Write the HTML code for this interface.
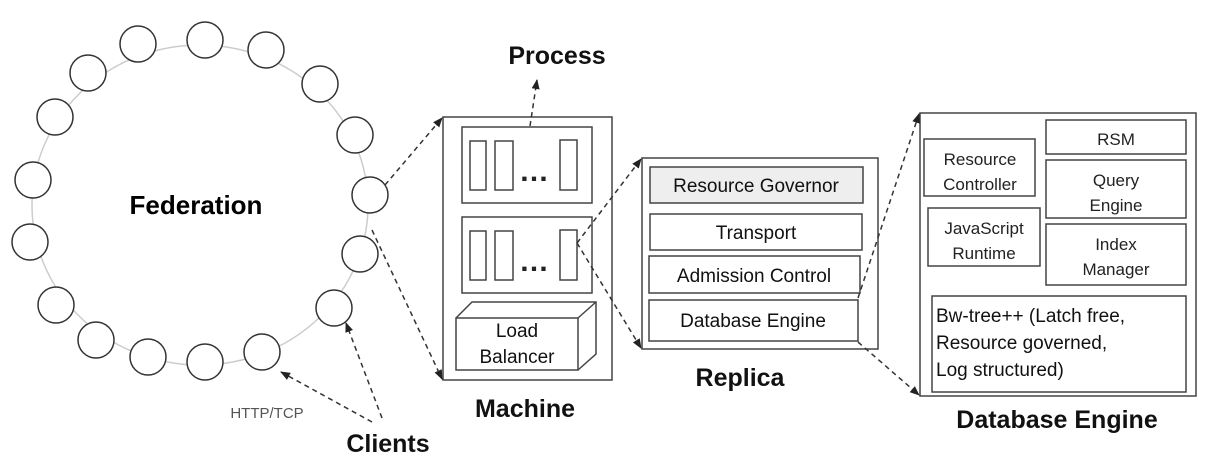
<!DOCTYPE html>
<html><head><style>body{margin:0;background:#fff}svg{display:block}text{font-family:"Liberation Sans",sans-serif}</style></head><body>
<svg width="1212" height="470" viewBox="0 0 1212 470" xmlns="http://www.w3.org/2000/svg">
<defs><marker id="a" markerWidth="10" markerHeight="10" refX="9" refY="5" orient="auto" markerUnits="userSpaceOnUse"><path d="M0,1 L10,5 L0,9 z" fill="#222"/></marker></defs>
<ellipse cx="200" cy="205" rx="168" ry="160" fill="none" stroke="#ccc" stroke-width="1.5"/>
<g fill="#fff" stroke="#333" stroke-width="1.5">
<circle cx="138" cy="44" r="18"/><circle cx="205" cy="40" r="18"/><circle cx="266" cy="50" r="18"/><circle cx="320" cy="84" r="18"/><circle cx="355" cy="135" r="18"/><circle cx="370" cy="195" r="18"/><circle cx="360" cy="254" r="18"/><circle cx="334" cy="308" r="18"/><circle cx="262" cy="352" r="18"/><circle cx="205" cy="362" r="18"/><circle cx="148" cy="357" r="18"/><circle cx="96" cy="340" r="18"/><circle cx="56" cy="305" r="18"/><circle cx="30" cy="242" r="18"/><circle cx="33" cy="180" r="18"/><circle cx="55" cy="117" r="18"/><circle cx="88" cy="73" r="18"/>
</g>
<text x="196" y="214" font-size="26" font-weight="bold" text-anchor="middle">Federation</text>
<g fill="none" stroke="#444" stroke-width="1.5">
<rect x="443" y="117" width="169" height="263"/>
<rect x="462" y="127" width="130" height="76"/><rect x="462" y="217" width="130" height="76"/>
<rect x="470" y="141" width="16" height="49"/><rect x="495" y="141" width="18" height="49"/><rect x="560" y="140" width="17" height="50"/>
<rect x="470" y="231" width="16" height="49"/><rect x="495" y="231" width="18" height="49"/><rect x="560" y="230" width="17" height="50"/>
<rect x="456" y="318" width="122" height="52" fill="#fff"/><path d="M456,318 L472,302 L596,302 L596,354 L578,370 M578,318 L596,302"/>
<rect x="642" y="158" width="236" height="191"/>
<rect x="650" y="167" width="213" height="36" fill="#eee"/><rect x="650" y="214" width="212" height="36"/><rect x="649" y="256" width="211" height="37"/><rect x="649" y="300" width="209" height="41"/>
<rect x="920" y="113" width="276" height="283"/>
<rect x="924" y="139" width="111" height="57"/><rect x="1046" y="120" width="140" height="34"/><rect x="1046" y="160" width="140" height="58"/><rect x="928" y="208" width="112" height="58"/><rect x="1046" y="224" width="140" height="61"/><rect x="932" y="296" width="254" height="96"/>
</g>
<g font-size="30" font-weight="bold" fill="#222"><text x="519" y="181">…</text><text x="519" y="271">…</text></g>
<g font-size="19" text-anchor="middle" fill="#111"><text x="517" y="337">Load</text><text x="517" y="363">Balancer</text>
<text x="756" y="192">Resource Governor</text><text x="756" y="239">Transport</text><text x="754" y="282">Admission Control</text><text x="753" y="327">Database Engine</text></g>
<g font-size="17" text-anchor="middle" fill="#222"><text x="980" y="165">Resource</text><text x="980" y="190">Controller</text><text x="1116" y="145">RSM</text><text x="1116" y="186">Query</text><text x="1116" y="211">Engine</text><text x="984" y="234">JavaScript</text><text x="984" y="259">Runtime</text><text x="1116" y="250">Index</text><text x="1116" y="275">Manager</text></g>
<g font-size="19" fill="#111"><text x="936" y="322">Bw-tree++ (Latch free,</text><text x="936" y="349">Resource governed,</text><text x="936" y="376">Log structured)</text></g>
<g font-size="25" font-weight="bold" text-anchor="middle" fill="#111"><text x="557" y="64">Process</text><text x="525" y="417">Machine</text><text x="740" y="386">Replica</text><text x="1057" y="428">Database Engine</text><text x="388" y="452">Clients</text></g>
<text x="267" y="418" font-size="15" fill="#555" text-anchor="middle">HTTP/TCP</text>
<g fill="none" stroke="#333" stroke-width="1.5" stroke-dasharray="5,4" marker-end="url(#a)">
<path d="M385,185 L442,118"/><path d="M372,230 L442,379"/><path d="M530,126 L537,80"/>
<path d="M577,243 L641,159"/><path d="M577,243 L641,348"/><path d="M858,298 L919,114"/><path d="M858,342 L919,395"/>
<path d="M382,418 L346,323"/><path d="M372,422 L281,372"/>
</g>
</svg>
</body></html>
